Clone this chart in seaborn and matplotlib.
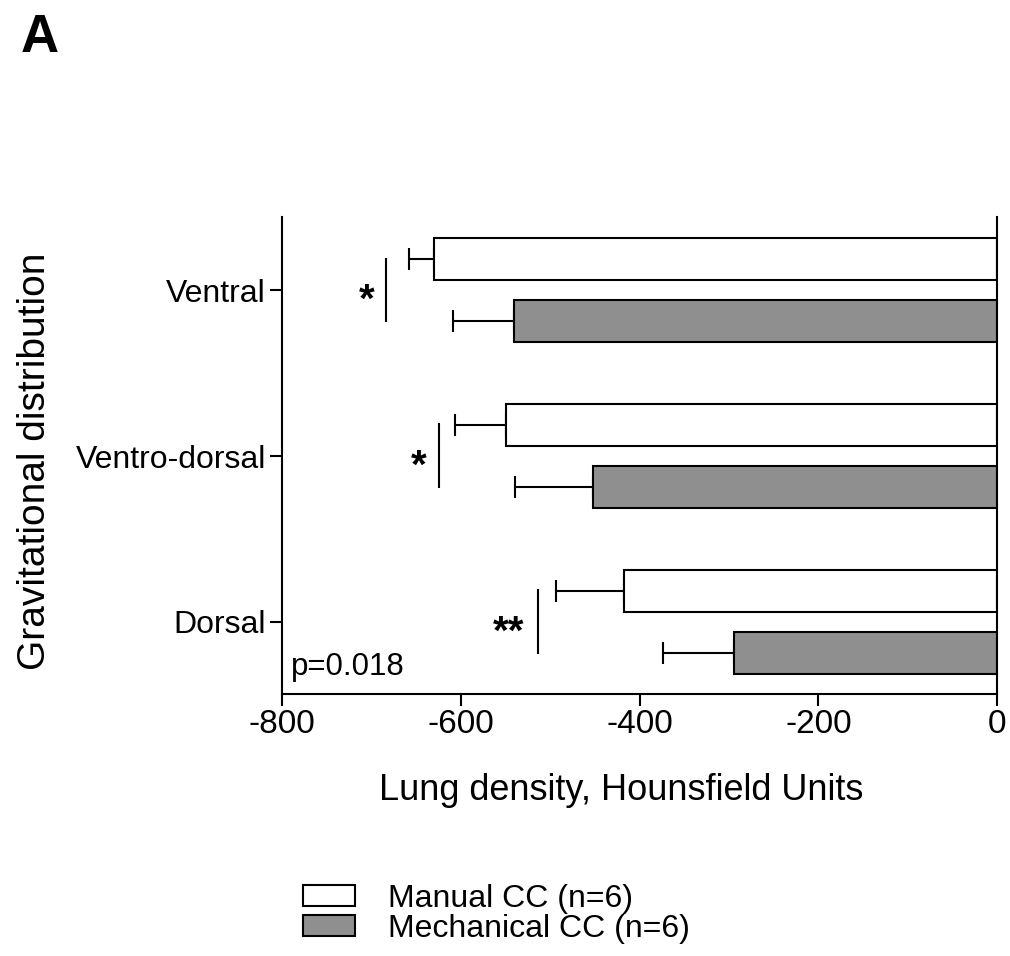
import numpy as np
import pandas as pd
import matplotlib
matplotlib.use("Agg")
import matplotlib.pyplot as plt
import matplotlib.transforms as mtransforms
from matplotlib.patches import Patch
import seaborn as sns

# ---- data ----
regions = ["Ventral", "Ventro-dorsal", "Dorsal"]
groups = ["Manual CC (n=6)", "Mechanical CC (n=6)"]
manual_mean = [-630, -550, -418]
manual_sd = [28, 57, 76]
mechanical_mean = [-540, -452, -295]
mechanical_sd = [69, 87, 79]

# significance markers: bracket x position, label x position, text
sig_x = [-684, -624, -514]
sig_label_x = [-705, -647, -547]
sig_text = ["*", "*", "**"]
p_text = "p=0.018"

xticks = [-800, -600, -400, -200, 0]

df = pd.DataFrame({
    "region": regions * 2,
    "group": [groups[0]] * 3 + [groups[1]] * 3,
    "density": manual_mean + mechanical_mean,
})

palette = {groups[0]: "white", groups[1]: "#8f8f8f"}

sns.set_style("ticks")
plt.rcParams["font.family"] = ["Liberation Sans", "DejaVu Sans"]
plt.rcParams.update({
    "text.color": "black",
    "axes.labelcolor": "black",
    "xtick.color": "black",
    "ytick.color": "black",
    "axes.edgecolor": "black",
})

fig = plt.figure(figsize=(10.10, 9.56), dpi=100)
ax = fig.add_axes([0.2792, 0.2741, 0.7082, 0.4990])

sns.barplot(data=df, y="region", x="density", hue="group", hue_order=groups,
            order=regions, orient="h", palette=palette, edgecolor="black",
            linewidth=1.5, width=0.75, gap=1 / 3, errorbar=None, legend=False,
            ax=ax, zorder=2)

# one-sided error bars drawn from each bar's centre
sds = [manual_sd, mechanical_sd]
for cont, sd in zip(ax.containers, sds):
    for bar, s in zip(cont, sd):
        yc = bar.get_y() + bar.get_height() / 2
        val = bar.get_x() + bar.get_width()
        ax.errorbar(x=[val], y=[yc], xerr=[[s], [0]], fmt="none", ecolor="black",
                    elinewidth=1.5, capsize=7.9, capthick=1.5, zorder=1)

ax.set_xlim(-800, 0)
ax.set_ylim(2.434, -0.441)
ax.set_xticks(xticks)
ax.set_xticklabels([str(t) for t in xticks])

for side in ["left", "bottom", "right"]:
    ax.spines[side].set_linewidth(1.5)
    ax.spines[side].set_color("black")
ax.spines["top"].set_visible(False)
ax.tick_params(axis="both", which="both", length=8.6, width=1.5, color="black",
               labelcolor="black", right=False, top=False)
ax.tick_params(axis="x", labelsize=24, pad=2)
ax.tick_params(axis="y", labelsize=23, pad=3)

# significance brackets and stars
star_fs = 29
for i, (sx, lx, t) in enumerate(zip(sig_x, sig_label_x, sig_text)):
    ax.plot([sx, sx], [i - 0.196, i + 0.195], color="black", lw=1.5,
            solid_capstyle="butt")
    tr = mtransforms.offset_copy(ax.transData, fig=fig, y=-0.54 * star_fs,
                                 units="points")
    ax.text(lx, i, t, transform=tr, ha="center", va="baseline",
            fontsize=star_fs, fontweight="bold", color="black")

ax.text(-790, 2.319, p_text, ha="left", va="baseline", fontsize=22.5,
        color="black")

ax.set_xlabel("Lung density, Hounsfield Units", fontsize=26)
ax.xaxis.set_label_coords(0.4746, -0.2222)
ax.xaxis.label.set_va("baseline")
ax.set_ylabel("Gravitational distribution", fontsize=28)
ax.yaxis.set_label_coords(-0.3313, 0.4885)
ax.yaxis.label.set_va("baseline")

fig.text(20.7 / 1010, 1 - 52.3 / 956, "A", fontsize=38, fontweight="bold",
         ha="left", va="baseline", color="black")

handles = [Patch(facecolor=palette[g], edgecolor="black", linewidth=1.5, label=g)
           for g in groups]
leg = fig.legend(handles=handles, loc="upper left",
                 bbox_to_anchor=(303 / 1010, 1 - 884 / 956), frameon=False,
                 fontsize=23, borderpad=0, borderaxespad=0, handlelength=1.63,
                 handleheight=0.63, handletextpad=1.03, labelspacing=0.0)
for txt in leg.get_texts():
    txt.set_color("black")

fig.savefig("out.png", dpi=100, facecolor="white")
